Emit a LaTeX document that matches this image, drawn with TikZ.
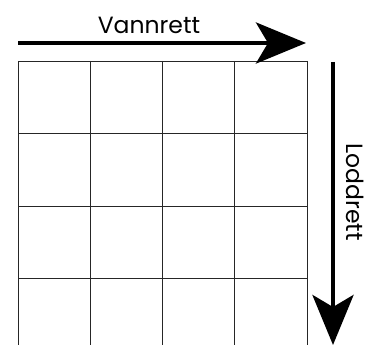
\documentclass[tikz,border=0pt]{standalone}
\usepackage{fontspec}
\setmainfont{Poppins}
\usetikzlibrary{arrows.meta}
\tikzset{
  gridline/.style={line width=0.9pt, black!85},
  dirarrow/.style={line width=4.5pt, -{Stealth[length=50pt, width=41pt, inset=12pt]}},
  dirlabel/.style={font=\fontsize{23.5}{26}\selectfont, inner sep=0pt}
}
\begin{document}
\begin{tikzpicture}[x=1pt, y=-1pt]
  \useasboundingbox (0,0) rectangle (370,345);
  % grid, open at the bottom
  \foreach \x in {18, 90.25, 162.5, 234.75, 307}{
    \draw[gridline] (\x,61) -- (\x,345);
  }
  \foreach \y in {61, 133.5, 206, 278.5}{
    \draw[gridline] (18,\y) -- (307,\y);
  }
  % horizontal direction
  \coordinate (hstart) at (18,43);
  \coordinate (hend) at (306,43);
  \draw[dirarrow] (hstart) -- (hend);
  \node[dirlabel, anchor=base] (vannrett) at (149,34) {Vannrett};
  % vertical direction
  \coordinate (vstart) at (333,62);
  \coordinate (vend) at (333,345);
  \draw[dirarrow] (vstart) -- (vend);
  \node[dirlabel, rotate=-90, anchor=base] (loddrett) at (346,192) {Loddrett};
\end{tikzpicture}
\end{document}
